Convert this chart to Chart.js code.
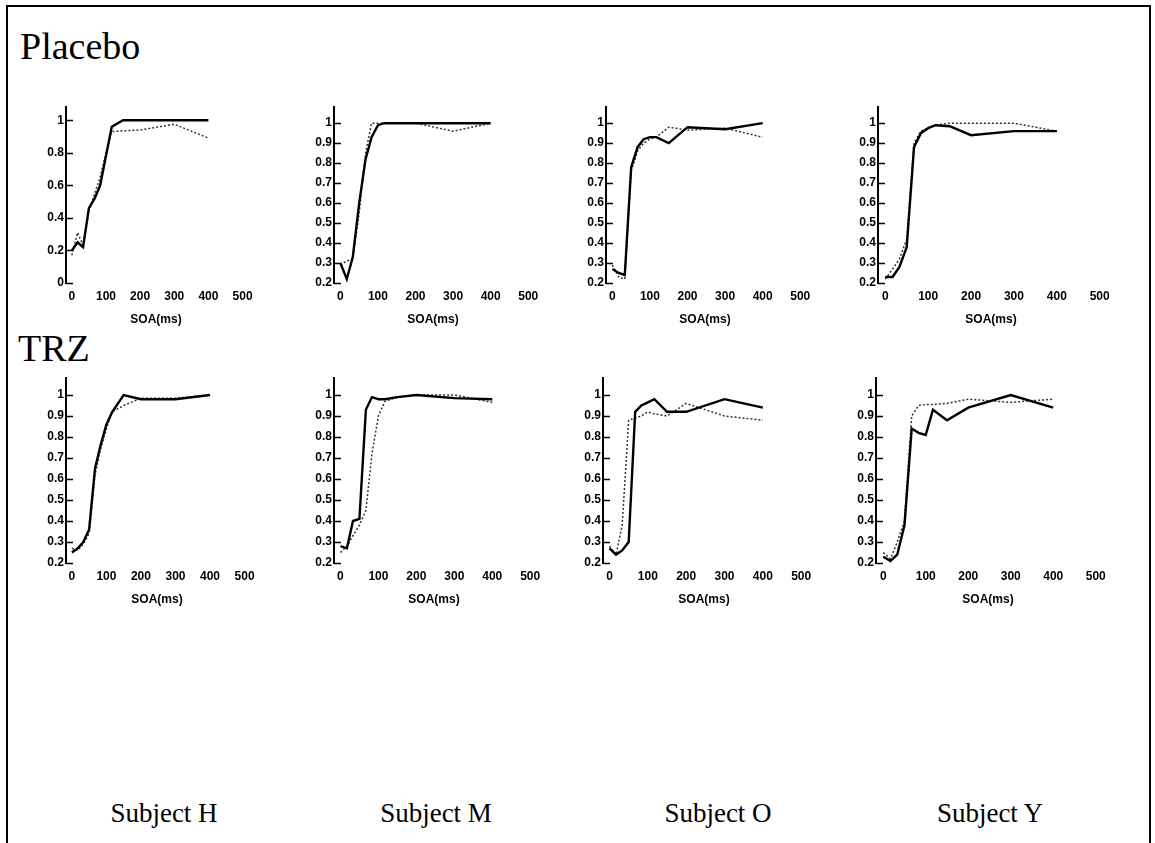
<!DOCTYPE html>
<html>
<head>
<meta charset="utf-8">
<script src="https://cdn.jsdelivr.net/npm/chart.js@4/dist/chart.umd.min.js"></script>
<style>
  html, body { margin: 0; padding: 0; background: #fff; }
  #page { position: relative; width: 1155px; height: 843px; overflow: hidden; }
  #frame { position: absolute; left: 6px; top: 5px; width: 1141px; height: 850px;
           border-left: 2px solid #000; border-top: 2px solid #000; border-right: 2px solid #000; }
  .panel { position: absolute; }
  .title { position: absolute; font-family: "Liberation Serif", serif; font-size: 38px; color: #000; }
  .subject { position: absolute; font-family: "Liberation Serif", serif; font-size: 27px; color: #000;
             width: 220px; text-align: center; }
</style>
</head>
<body>
<div id="page">
  <div id="frame"></div>
  <div class="title" style="left:20px; top:24px;">Placebo</div>
  <div class="title" style="left:18px; top:326px;">TRZ</div>
</div>
<script>
// SOA values (ms) shared by every curve
const soa = [0, 17, 33, 50, 67, 83, 100, 117, 150, 200, 300, 400];
const xTicks = [0, 100, 200, 300, 400, 500];
const subjects = ["Subject H", "Subject M", "Subject O", "Subject Y"];

// Placebo row
const placeboSolidH  = [0.20, 0.25, 0.22, 0.46, 0.52, 0.60, 0.78, 0.96, 1.0, 1.0, 1.0, 1.0];
const placeboDottedH = [0.17, 0.31, 0.23, 0.44, 0.55, 0.65, 0.80, 0.93, 0.935, 0.94, 0.975, 0.89];
const placeboSolidM  = [0.30, 0.22, 0.33, 0.60, 0.82, 0.93, 0.99, 1.0, 1.0, 1.0, 1.0, 1.0];
const placeboDottedM = [0.29, 0.31, 0.32, 0.55, 0.85, 1.0, 1.0, 1.0, 1.0, 1.0, 0.96, 1.0];
const placeboSolidO  = [0.27, 0.25, 0.24, 0.78, 0.88, 0.92, 0.93, 0.93, 0.90, 0.98, 0.97, 1.0];
const placeboDottedO = [0.29, 0.23, 0.22, 0.76, 0.86, 0.90, 0.92, 0.93, 0.98, 0.965, 0.975, 0.93];
const placeboSolidY  = [0.23, 0.23, 0.28, 0.38, 0.88, 0.95, 0.975, 0.99, 0.985, 0.94, 0.96, 0.96];
const placeboDottedY = [0.22, 0.27, 0.32, 0.42, 0.90, 0.96, 0.975, 0.99, 1.0, 1.0, 1.0, 0.96];

// TRZ row
const trzSolidH  = [0.25, 0.27, 0.30, 0.36, 0.65, 0.76, 0.86, 0.92, 1.0, 0.98, 0.98, 1.0];
const trzDottedH = [0.27, 0.26, 0.29, 0.34, 0.62, 0.74, 0.84, 0.92, 0.95, 0.985, 0.985, 1.0];
const trzSolidM  = [0.28, 0.27, 0.40, 0.41, 0.93, 0.99, 0.98, 0.98, 0.99, 1.0, 0.985, 0.98];
const trzDottedM = [0.25, 0.28, 0.33, 0.38, 0.45, 0.72, 0.90, 0.97, 0.99, 1.0, 1.0, 0.965];
const trzSolidO  = [0.27, 0.24, 0.26, 0.30, 0.92, 0.95, 0.965, 0.98, 0.92, 0.92, 0.98, 0.94];
const trzDottedO = [0.28, 0.24, 0.38, 0.88, 0.89, 0.90, 0.92, 0.91, 0.90, 0.96, 0.90, 0.88];
const trzSolidY  = [0.23, 0.21, 0.24, 0.38, 0.84, 0.82, 0.81, 0.93, 0.88, 0.94, 1.0, 0.94];
const trzDottedY = [0.25, 0.22, 0.30, 0.40, 0.90, 0.95, 0.955, 0.955, 0.96, 0.98, 0.965, 0.98];

const tickFont = { family: '"Liberation Sans", Arial, sans-serif', size: 12, weight: "bold" };
const yAxisWidth = 38;
const padTop = 6;
const padRight = 22;
const xAxisHeight = 44;

// little tick marks drawn on the inner side of the y axis
const innerTicks = {
  id: "innerTicks",
  afterDraw(chart) {
    const y = chart.scales.y;
    const c = chart.ctx;
    c.save();
    c.strokeStyle = "#000";
    c.lineWidth = 1.5;
    y.ticks.forEach((t) => {
      const py = Math.round(y.getPixelForValue(t.value)) + 0.5;
      c.beginPath();
      c.moveTo(chart.chartArea.left, py);
      c.lineTo(chart.chartArea.left + 7, py);
      c.stroke();
    });
    c.restore();
  },
};

const makePanel = (axisX, plotTop, plotW, plotH, yMin, yStep, solid, dotted) => {
  const page = document.getElementById("page");
  const div = document.createElement("div");
  div.className = "panel";
  const w = yAxisWidth + plotW + padRight;
  const h = padTop + plotH + xAxisHeight;
  div.style.left = axisX - yAxisWidth + "px";
  div.style.top = plotTop - padTop + "px";
  div.style.width = w + "px";
  div.style.height = h + "px";
  const canvas = document.createElement("canvas");
  div.appendChild(canvas);
  page.appendChild(div);

  new Chart(canvas, {
    type: "line",
    data: {
      datasets: [
        {
          data: soa.map((x, i) => ({ x, y: solid[i] })),
          borderColor: "#000",
          borderWidth: 2.4,
          pointRadius: 0,
          tension: 0,
        },
        {
          data: soa.map((x, i) => ({ x, y: dotted[i] })),
          borderColor: "#333",
          borderWidth: 1.5,
          borderDash: [2, 2],
          pointRadius: 0,
          tension: 0,
        },
      ],
    },
    options: {
      responsive: true,
      maintainAspectRatio: false,
      animation: false,
      layout: { padding: { top: padTop, right: padRight, left: 0, bottom: 0 } },
      scales: {
        x: {
          type: "linear",
          min: -17,
          max: 510,
          afterBuildTicks: (s) => { s.ticks = xTicks.map((v) => ({ value: v })); },
          afterFit: (s) => { s.height = xAxisHeight; },
          grid: { display: false, drawTicks: false },
          border: { display: false },
          ticks: { color: "#000", font: tickFont, padding: 6, maxRotation: 0, autoSkip: false },
          title: { display: true, text: "SOA(ms)", color: "#000", font: tickFont, padding: { top: 5, bottom: 0 } },
        },
        y: {
          min: yMin,
          max: 1.08,
          afterBuildTicks: (s) => {
            const out = [];
            for (let v = 1; v >= yMin - 1e-6; v -= yStep) out.push({ value: +v.toFixed(2) });
            s.ticks = out.reverse();
          },
          afterFit: (s) => { s.width = yAxisWidth; },
          grid: { display: false, drawTicks: false },
          border: { display: true, color: "#000", width: 2 },
          ticks: {
            color: "#000",
            font: tickFont,
            padding: 2,
            callback: (v) => String(+v.toFixed(1)),
          },
        },
      },
      plugins: { legend: { display: false }, tooltip: { enabled: false } },
    },
    plugins: [innerTicks],
  });
};

// placebo row
makePanel(66, 104, 180, 179, 0, 0.2, placeboSolidH, placeboDottedH);
makePanel(334, 104, 198, 179, 0.2, 0.1, placeboSolidM, placeboDottedM);
makePanel(606, 104, 198, 179, 0.2, 0.1, placeboSolidO, placeboDottedO);
makePanel(878, 104, 226, 179, 0.2, 0.1, placeboSolidY, placeboDottedY);

// TRZ row
makePanel(66, 375, 182, 188, 0.2, 0.1, trzSolidH, trzDottedH);
makePanel(334, 375, 200, 188, 0.2, 0.1, trzSolidM, trzDottedM);
makePanel(603, 375, 202, 188, 0.2, 0.1, trzSolidO, trzDottedO);
makePanel(876, 375, 224, 188, 0.2, 0.1, trzSolidY, trzDottedY);

// subject names under the columns
const subjectCenters = [164, 436, 718, 990];
subjects.forEach((name, i) => {
  const d = document.createElement("div");
  d.className = "subject";
  d.textContent = name;
  d.style.left = subjectCenters[i] - 110 + "px";
  d.style.top = "798px";
  document.getElementById("page").appendChild(d);
});
</script>
</body>
</html>
